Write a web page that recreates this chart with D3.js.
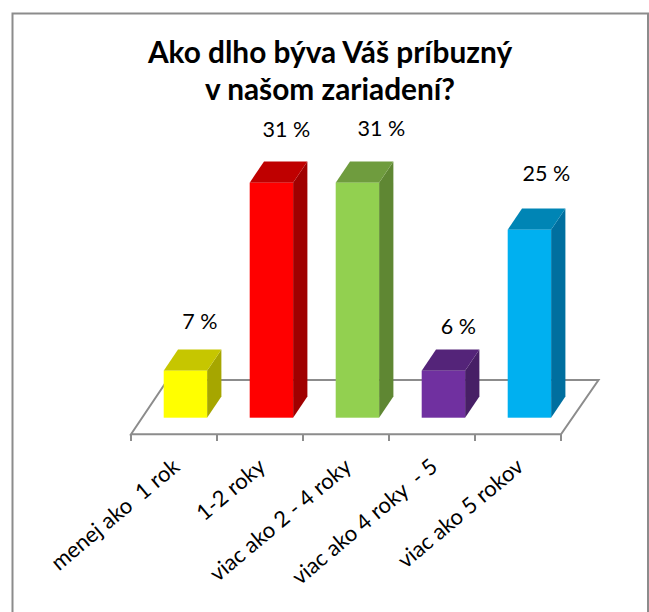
<!DOCTYPE html>
<html><head><meta charset="utf-8">
<script src="https://cdnjs.cloudflare.com/ajax/libs/d3/7.8.5/d3.min.js"></script>
<style>html,body{margin:0;padding:0;background:#fff}svg{display:block}text{font-family:Lato,"Open Sans",sans-serif;fill:#000;white-space:pre}</style>
</head><body><svg id="c" width="649" height="612"></svg>
<script>
const categories = ["menej ako  1 rok","1-2 roky","viac ako 2 - 4 roky","viac ako 4 roky  - 5","viac ako 5 rokov"];
const barValues = [6.2,31,31,6.2,24.8];
const valueLabels = ["7 %","31 %","31 %","6 %","25 %"];
const frontColors = ["#ffff00","#ff0000","#92d050","#7030a0","#00b0f0"];
const topColors = ["#c6c600","#bf0000","#6f9c3e","#542479","#0085b5"];
const sideColors = ["#a6a600","#a00000","#5f8733","#471f66","#006f9f"];
const titleLines = ["Ako dlho býva Váš príbuzný","v našom zariadení?"];

const svg = d3.select("#c");
const W=649,H=612;
// chart frame
svg.append("path").attr("d",`M12.5,${H} V13.5 H648 V${H}`).attr("fill","none").attr("stroke","#8c8c8c").attr("stroke-width",2);

svg.selectAll(".t").data(titleLines).join("text").attr("class","t")
 .attr("x",330).attr("y",(d,i)=>63+i*37).attr("text-anchor","middle")
 .attr("font-size",29.8).attr("font-weight",700).text(d=>d);

const x=d3.scaleBand().domain(categories).range([131,561]).paddingInner(0).paddingOuter(0);
const y=d3.scaleLinear().domain([0,31]).range([417.7,182.7]);
const dxD=14.3,dyD=21.3;           // bar depth projection
const floorDx=37.5,floorFront=434.3,floorBack=380;
const barW=43.4, shiftX=11.4;

// floor
svg.append("path").attr("d",`M131,${floorFront} L${131+floorDx-1},${floorBack} H${561+floorDx} L561,${floorFront} Z`)
  .attr("fill","#fff").attr("stroke","#8c8c8c").attr("stroke-width",2);
// ticks
const tickXs=[...categories.map(c=>x(c)),561];
svg.selectAll(".tick").data(tickXs).join("line").attr("x1",d=>d).attr("x2",d=>d)
  .attr("y1",floorFront).attr("y2",441).attr("stroke","#8c8c8c").attr("stroke-width",2);

const bars=svg.selectAll(".bar").data(categories).join("g").attr("class","bar");
const left=c=>x(c)+x.bandwidth()/2+shiftX-barW/2;
bars.append("path").attr("fill",(d,i)=>sideColors[i])
 .attr("d",(c,i)=>{const a=left(c)+barW,t=y(barValues[i]),b=y(0);return `M${a},${t} l${dxD},${-dyD} V${b-dyD} L${a},${b} Z`});
bars.append("path").attr("fill",(d,i)=>topColors[i])
 .attr("d",(c,i)=>{const a=left(c),t=y(barValues[i]);return `M${a},${t} l${dxD},${-dyD} h${barW} l${-dxD},${dyD} Z`});
bars.append("rect").attr("fill",(d,i)=>frontColors[i])
 .attr("x",left).attr("width",barW).attr("y",(c,i)=>y(barValues[i])).attr("height",(c,i)=>y(0)-y(barValues[i]));

// data labels, hand-placed in the original
const lblDx=[14.5,15,24,15,17], lblDy=[-20.5,-24,-25,-15,-27];
svg.selectAll(".v").data(categories).join("text").attr("class","v")
 .attr("x",(c,i)=>left(c)+barW/2+lblDx[i]).attr("y",(c,i)=>y(barValues[i])-dyD+lblDy[i])
 .attr("text-anchor","middle").attr("font-size",21.5).text((c,i)=>valueLabels[i]);

// category labels
svg.selectAll(".cat").data(categories).join("text").attr("class","cat")
 .attr("text-anchor","end").attr("font-size",22)
 .attr("transform",c=>`translate(${x(c)+x.bandwidth()/2+7},469) rotate(-40)`)
 .text(c=>c);
</script></body></html>
